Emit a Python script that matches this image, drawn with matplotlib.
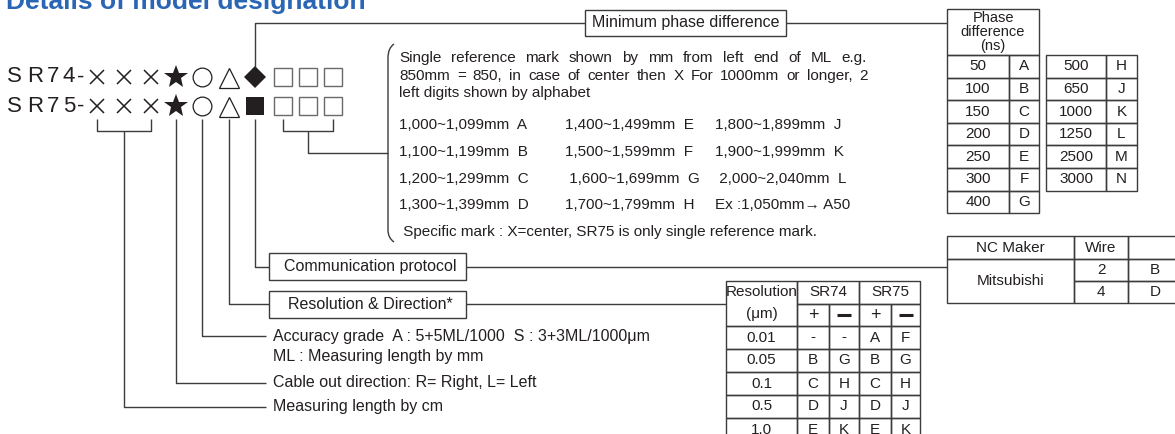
import matplotlib.pyplot as plt
from matplotlib.patches import Rectangle, PathPatch
from matplotlib.path import Path

plt.rcParams['font.family'] = ['Liberation Sans', 'DejaVu Sans']

INK = '#231f20'
LINE = '#3c3c3c'
BLUE = '#2a66b4'

# ---- content ----
title = 'Details of model designation'
models = ['SR74-', 'SR75-']
model_marks = [['x', 'x', 'x', '*', 'o', '^', 'D', 's', 's', 's'],
               ['x', 'x', 'x', '*', 'o', '^', 's_fill', 's', 's', 's']]

ref_note = ['Single reference mark shown by mm from left end of ML e.g.',
            '850mm = 850, in case of center then X For 1000mm or longer, 2',
            'left digits shown by alphabet']
ref_col1 = ['1,000~1,099mm  A', '1,100~1,199mm  B', '1,200~1,299mm  C', '1,300~1,399mm  D']
ref_col2 = ['1,400~1,499mm  E', '1,500~1,599mm  F', ' 1,600~1,699mm  G', '1,700~1,799mm  H']
ref_col3 = ['1,800~1,899mm  J', '1,900~1,999mm  K', ' 2,000~2,040mm  L', 'Ex :1,050mm\u2192 A50']
ref_specific = ' Specific mark : X=center, SR75 is only single reference mark.'

phase_ns_1 = ['50', '100', '150', '200', '250', '300', '400']
phase_code_1 = ['A', 'B', 'C', 'D', 'E', 'F', 'G']
phase_ns_2 = ['500', '650', '1000', '1250', '2500', '3000']
phase_code_2 = ['H', 'J', 'K', 'L', 'M', 'N']

res_values = ['0.01', '0.05', '0.1', '0.5', '1.0']
sr74_plus = ['-', 'B', 'C', 'D', 'E']
sr74_minus = ['-', 'G', 'H', 'J', 'K']
sr75_plus = ['A', 'B', 'C', 'D', 'E']
sr75_minus = ['F', 'G', 'H', 'J', 'K']

nc_maker = 'Mitsubishi'
wires = ['2', '4']
wire_code = ['B', 'D']

labels_plain = ['Accuracy grade  A : 5+5ML/1000  S : 3+3ML/1000\u03bcm',
                'ML : Measuring length by mm',
                'Cable out direction: R= Right, L= Left',
                'Measuring length by cm']

fig = plt.figure(figsize=(11.75, 4.34), dpi=100)
ax = fig.add_axes([0, 0, 1, 1])
ax.set_xlim(0, 1175)
ax.set_ylim(434, 0)
ax.axis('off')
renderer = fig.canvas.get_renderer()

FS = 11.5   # labels
BFS = 11    # text inside the brace
TFS = 11    # tables


def line(xs, ys, lw=1.0):
    ax.plot(xs, ys, color=LINE, lw=lw, solid_capstyle='butt')


def box(x0, y0, x1, y1, lw=1.0):
    ax.add_patch(Rectangle((x0, y0), x1 - x0, y1 - y0, fill=False,
                           edgecolor=LINE, lw=lw))


def justify(text, x0, x1, y, fs):
    words = text.split()
    arts = [ax.text(0, y, w, fontsize=fs, color=INK, va='center') for w in words]
    widths = [a.get_window_extent(renderer).width for a in arts]
    gap = (x1 - x0 - sum(widths)) / (len(words) - 1)
    x = x0
    for a, w in zip(arts, widths):
        a.set_x(x)
        x += w + gap


# title, clipped at the top edge as in the source
ax.text(6, 9.5, title, color=BLUE, fontsize=19, fontweight='bold',
        va='baseline', ha='left')

# ---- model code rows ----
row_y = [77, 106]
char_x = [14, 35, 53, 69, 81]
mark_x = [97, 124, 151, 176, 202, 229, 255, 283, 308, 333]
for name, marks, y in zip(models, model_marks, row_y):
    for ch, cx in zip(name, char_x):
        ax.text(cx, y, ch, fontsize=16, color=INK, ha='center', va='center')
    for m, mx in zip(marks, mark_x):
        if m == 'x':
            ax.plot(mx, y, 'x', ms=10, mew=1.1, color=INK)
        elif m == '*':
            ax.plot(mx, y, '*', ms=18, color=INK, mew=0)
        elif m == 'o':
            ax.plot(mx, y, 'o', ms=13.5, mfc='white', mec=INK, mew=0.9)
        elif m == '^':
            ax.plot(mx, y + 1, '^', ms=14, mfc='white', mec=INK, mew=0.9)
        elif m == 'D':
            ax.plot(mx, y, 'D', ms=11, color=INK, mew=0)
        elif m == 's_fill':
            ax.plot(mx, y, 's', ms=13, color=INK, mew=0)
        else:
            ax.plot(mx, y, 's', ms=13, mfc='white', mec='#6a6a6a', mew=1.0)

# ---- leader lines ----
stem_top = 119
# minimum phase difference
line([255, 255, 585], [67, 23, 23])
box(585, 10, 786, 36)
ax.text(685.5, 23, 'Minimum phase difference', fontsize=FS, color=INK,
        ha='center', va='center')
line([786, 947], [23, 23])

# bracket under the three reference squares
line([283, 283, 333, 333], [stem_top, 131, 131, stem_top])
line([308, 308, 388], [131, 153, 153])

# brace
brace = Path([(394, 44), (388, 48), (388, 58), (388, 230), (388, 238), (394, 242)],
             [Path.MOVETO, Path.CURVE3, Path.CURVE3, Path.LINETO, Path.CURVE3, Path.CURVE3])
ax.add_patch(PathPatch(brace, fill=False, edgecolor=LINE, lw=1.0))

note_y = [58, 76, 93]
justify(ref_note[0], 399, 867, note_y[0], BFS)
justify(ref_note[1], 399, 868, note_y[1], BFS)
ax.text(399, note_y[2], ref_note[2], fontsize=BFS, color=INK, va='center')
rows_y = [125, 152, 179, 205]
for col, cx in zip([ref_col1, ref_col2, ref_col3], [399, 565, 715]):
    for t, y in zip(col, rows_y):
        ax.text(cx, y, t, fontsize=BFS, color=INK, va='center')
ax.text(399, 232, ref_specific, fontsize=BFS, color=INK, va='center')

# communication protocol
line([255, 255, 269], [stem_top, 267, 267])
box(269, 253, 466, 280)
ax.text(370, 266.5, 'Communication protocol', fontsize=FS, color=INK,
        ha='center', va='center')
line([466, 947], [267, 267])

# resolution & direction
line([229, 229, 269], [stem_top, 304, 304])
box(269, 291, 466, 318)
ax.text(370, 304.5, 'Resolution & Direction*', fontsize=FS, color=INK,
        ha='center', va='center')
line([466, 726], [304, 304])

# accuracy, cable, length
line([202, 202, 266], [stem_top, 336, 336])
ax.text(273, 336, labels_plain[0], fontsize=FS, color=INK, va='center')
ax.text(273, 357, labels_plain[1], fontsize=FS, color=INK, va='center')
line([176, 176, 266], [stem_top, 383, 383])
ax.text(273, 383, labels_plain[2], fontsize=FS, color=INK, va='center')
line([97, 97, 151, 151], [stem_top, 131, 131, stem_top])
line([124, 124, 266], [131, 407, 407])
ax.text(273, 407, labels_plain[3], fontsize=FS, color=INK, va='center')

# ---- phase difference tables ----
box(947, 9, 1039, 55)
for t, y in zip(['Phase', 'difference', '(ns)'], [18, 32, 46]):
    ax.text(993, y, t, fontsize=10.5, color=INK, ha='center', va='center',
            linespacing=1.0)
ph_top, ph_h = 55, 22.6
for i, (v, c) in enumerate(zip(phase_ns_1, phase_code_1)):
    y0 = ph_top + i * ph_h
    box(947, y0, 1009, y0 + ph_h)
    box(1009, y0, 1039, y0 + ph_h)
    ax.text(978, y0 + ph_h / 2, v, fontsize=TFS, color=INK, ha='center', va='center')
    ax.text(1024, y0 + ph_h / 2, c, fontsize=TFS, color=INK, ha='center', va='center')
for i, (v, c) in enumerate(zip(phase_ns_2, phase_code_2)):
    y0 = ph_top + i * ph_h
    box(1046, y0, 1106, y0 + ph_h)
    box(1106, y0, 1137, y0 + ph_h)
    ax.text(1076, y0 + ph_h / 2, v, fontsize=TFS, color=INK, ha='center', va='center')
    ax.text(1121.5, y0 + ph_h / 2, c, fontsize=TFS, color=INK, ha='center', va='center')

# ---- NC maker table ----
box(947, 236, 1074, 259)
box(1074, 236, 1128, 259)
box(1128, 236, 1185, 259)
box(947, 259, 1074, 303)
box(1074, 259, 1128, 281)
box(1128, 259, 1185, 281)
box(1074, 281, 1128, 303)
box(1128, 281, 1185, 303)
ax.text(1010.5, 247.5, 'NC Maker', fontsize=TFS, color=INK, ha='center', va='center')
ax.text(1101, 247.5, 'Wire', fontsize=TFS, color=INK, ha='center', va='center')
ax.text(1010.5, 281, nc_maker, fontsize=TFS, color=INK, ha='center', va='center')
for w, c, y in zip(wires, wire_code, [270, 292]):
    ax.text(1101, y, w, fontsize=TFS, color=INK, ha='center', va='center')
    ax.text(1155, y, c, fontsize=TFS, color=INK, ha='center', va='center')

# ---- resolution table ----
cols = [726, 797, 829, 859, 891, 920]
r_top, r_mid, r_hdr, r_h = 281, 303.5, 326, 23
box(cols[0], r_top, cols[1], r_hdr)
box(cols[1], r_top, cols[3], r_mid)
box(cols[3], r_top, cols[5], r_mid)
for j in range(1, 5):
    box(cols[j], r_mid, cols[j + 1], r_hdr)
ax.text(761.5, 292, 'Resolution', fontsize=TFS, color=INK, ha='center', va='center')
ax.text(761.5, 314, '(\u03bcm)', fontsize=TFS, color=INK, ha='center', va='center')
ax.text(828, 292, 'SR74', fontsize=TFS, color=INK, ha='center', va='center')
ax.text(890, 292, 'SR75', fontsize=TFS, color=INK, ha='center', va='center')
for j in range(4):
    cx = (cols[j + 1] + cols[j + 2]) / 2
    if j % 2 == 0:
        ax.text(cx, 315, '+', fontsize=13, color=INK, ha='center', va='center')
    else:
        ax.plot([cx - 7, cx + 7], [315, 315], color=INK, lw=2.2, solid_capstyle='butt')
for i, row in enumerate(zip(res_values, sr74_plus, sr74_minus, sr75_plus, sr75_minus)):
    y0 = r_hdr + i * r_h
    for j, v in enumerate(row):
        box(cols[j], y0, cols[j + 1], y0 + r_h)
        ax.text((cols[j] + cols[j + 1]) / 2, y0 + r_h / 2, v, fontsize=TFS,
                color=INK, ha='center', va='center')

fig.savefig('out.png', dpi=100)
